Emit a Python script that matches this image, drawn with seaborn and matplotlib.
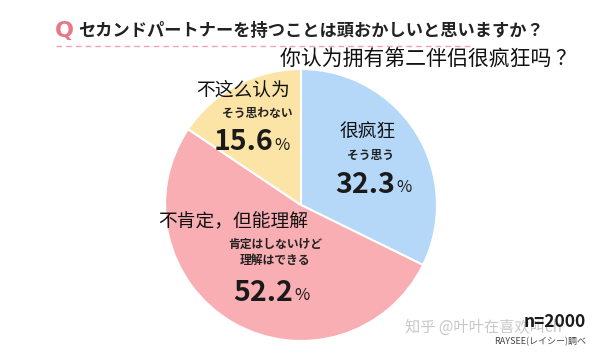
import matplotlib
matplotlib.use("Agg")
import matplotlib.pyplot as plt
import seaborn as sns

# Data.
categories = ["很疯狂", "不肯定，但能理解", "不这么认为"]
sub_labels = ["そう思う", "肯定はしないけど\n理解はできる", "そう思わない"]
shares = [32.3, 52.2, 15.6]
colors = ["#b5d8f8", "#f8aeb3", "#fbe4a6"]
title_jp = "セカンドパートナーを持つことは頭おかしいと思いますか？"
title_cn = "你认为拥有第二伴侣很疯狂吗 ？"
sample = "n=2000"
source = "RAYSEE(レイシー)調べ"
watermark = "知乎 @叶叶在喜欢叫ch"

sns.set_theme(style="white")
plt.rcParams["font.family"] = ["Noto Sans CJK JP", "DejaVu Sans"]
cn_font = ["Noto Sans CJK SC", "DejaVu Sans"]

W, H = 600, 360
fig = plt.figure(figsize=(6, 3.6), dpi=100)
fig.patch.set_facecolor("white")


def fx(x):
    return x / W


def fy(y):
    return 1 - y / H


# Pie: centre ~(301, 205), radius ~136 px
cx, cy, r = 301, 205, 136
ax = fig.add_axes([fx(cx - r), fy(cy + r), 2 * r / W, 2 * r / H])
ax.pie(shares, colors=colors, startangle=90, counterclock=False,
       wedgeprops=dict(edgecolor="white", linewidth=1.5))
ax.set_xlim(-1, 1)
ax.set_ylim(-1, 1)
ax.set_aspect("equal")
ax.axis("off")

# Title block
fig.text(fx(55), fy(31), "Q", color="#e8778a", fontsize=16, fontweight="bold",
         va="center", ha="left", family="DejaVu Sans")
fig.text(fx(78), fy(31), title_jp, color="#222222", fontsize=12.4,
         fontweight="bold", va="center", ha="left")
fig.add_artist(plt.Line2D([fx(56), fx(470)], [fy(46), fy(46)],
                          color="#f0a3b0", lw=1, ls=(0, (4, 3))))
fig.text(fx(577), fy(60), title_cn, color="#111111", fontsize=15,
         va="center", ha="right", family=cn_font)

# Slice labels: (category, sub label, number) positions in pixels
pos = [
    ((368, 132), (371, 155), (395, 185)),
    ((233, 222), (275, 252), (293, 293)),
    ((243, 90), (257, 113), (273, 142)),
]
for cat, sub, val, (p_cat, p_sub, p_val) in zip(categories, sub_labels, shares, pos):
    fig.text(fx(p_cat[0]), fy(p_cat[1]), cat, fontsize=13.5, color="#111111",
             ha="center", va="center", family=cn_font)
    fig.text(fx(p_sub[0]), fy(p_sub[1]), sub, fontsize=8.5, fontweight="bold",
             color="#222222", ha="center", va="center", linespacing=1.3)
    fig.text(fx(p_val[0]), fy(p_val[1]), f"{val:.1f}", fontsize=20.5,
             fontweight="bold", color="#1a1a1a", ha="right", va="center")
    fig.text(fx(p_val[0] + 1), fy(p_val[1] + 3), "%", fontsize=12,
             color="#1a1a1a", ha="left", va="center")

# Footer
fig.text(fx(483), fy(327), watermark, fontsize=11, color="#c8c8c8",
         ha="center", va="center", family=cn_font)
fig.text(fx(586), fy(322), sample, fontsize=12.5, fontweight="bold",
         color="#1a1a1a", ha="right", va="center")
fig.text(fx(586), fy(342), source, fontsize=6.5, color="#444444",
         ha="right", va="center")

fig.savefig("out.png", dpi=100, facecolor="white")
